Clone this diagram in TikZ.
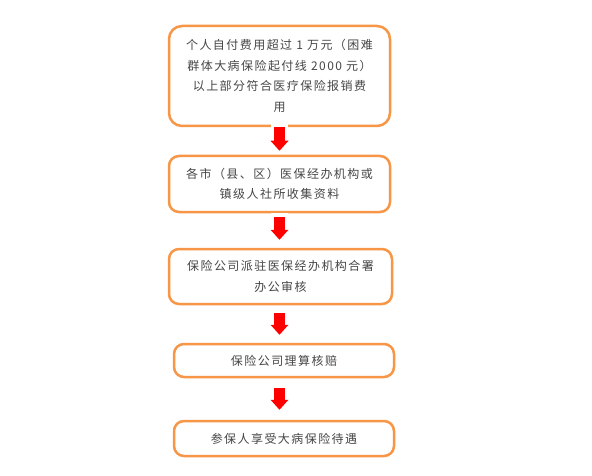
\documentclass[tikz,border=0pt]{standalone}
\usepackage{fontspec}
\newfontfamily\cjk[LetterSpace=12]{Noto Sans CJK SC}
\usetikzlibrary{arrows.meta,positioning}
\definecolor{boxorange}{RGB}{247,150,70}
\definecolor{txtgray}{RGB}{70,70,70}
\definecolor{arrred}{RGB}{255,0,0}

\begin{document}
\begin{tikzpicture}[x=1pt,y=-1pt,line join=round,
  stepbox/.style={draw=boxorange,line width=2.5pt,rounded corners=10pt,fill=white,
    minimum width=221pt,align=center,text=txtgray,inner sep=0pt,
    font=\cjk\fontsize{12}{20.5}\selectfont},
  flowarrow/.style={draw=arrred,line width=11pt,
    -{Triangle[width=18pt,length=10pt,line width=0pt]},
    preaction={draw=white,line width=17pt,-,shorten <=-4pt}}]
\useasboundingbox (0,0) rectangle (592,476);
% steps
\node[stepbox,minimum height=100pt,rounded corners=13pt] (cost) at (279.5,76)
  {个人自付费用超过 1 万元（困难\\群体大病保险起付线 2000 元）\\以上部分符合医疗保险报销费\\用};
\node[stepbox,minimum height=56pt] (collect) at (279.5,184)
  {各市（县、区）医保经办机构或\\镇级人社所收集资料};
\node[stepbox,minimum height=55pt,minimum width=223pt] (audit) at (280.5,276.5)
  {保险公司派驻医保经办机构合署\\办公审核};
\node[stepbox,minimum height=33pt,minimum width=220pt] (claim) at (284,360.5)
  {保险公司理算核赔};
\node[stepbox,minimum height=35pt,minimum width=220pt] (benefit) at (284,438.5)
  {参保人享受大病保险待遇};
% red arrows
\draw[flowarrow] (cost.south) -- ([yshift=4pt]collect.north -| cost);
\draw[flowarrow] ([yshift=-4pt]collect.south) -- ([yshift=8pt]audit.north -| cost);
\draw[flowarrow] ([yshift=-8pt]audit.south -| cost) -- ([yshift=8pt]claim.north -| cost);
\draw[flowarrow] ([yshift=-10pt]claim.south -| cost) -- ([yshift=10pt]benefit.north -| cost);
\end{tikzpicture}
\end{document}
